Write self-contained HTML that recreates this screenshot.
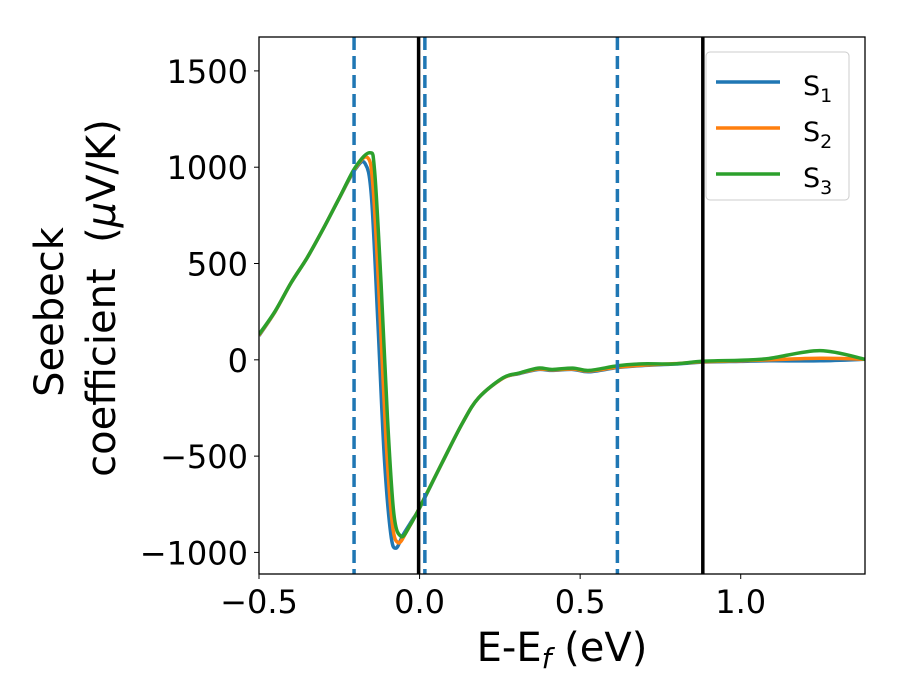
<!DOCTYPE html>
<html><head><meta charset="utf-8"><style>
body{margin:0;background:#fff}
svg{display:block;font-family:"DejaVu Sans","Liberation Sans",sans-serif}
</style></head><body>
<svg id="chart" width="900" height="700">
<rect width="900" height="700" fill="#fff"/>
<g id="plot"></g>
</svg>
<script>
const xTicks=[-0.5,0.0,0.5,1.0];
const xTickLabels=["\u22120.5","0.0","0.5","1.0"];
const yTicks=[-1000,-500,0,500,1000,1500];
const yTickLabels=["\u22121000","\u2212500","0","500","1000","1500"];
const dashedLines=[-0.204,0.0165,0.616];
const solidLines=[-0.003,0.882];
const xS1=[-0.5,-0.45,-0.4,-0.35,-0.3,-0.25,-0.2,-0.17,-0.15,-0.13,-0.11,-0.09,-0.074,-0.05,-0.02,0,0.07,0.134,0.184,0.26,0.31,0.369,0.413,0.477,0.528,0.617,0.693,0.795,0.884,1.0,1.088,1.247,1.387];
const yS1=[125,250,400,530,680,840,990,1020,850,200,-500,-900,-978,-905,-825,-770,-535,-327,-197,-95,-72,-50,-55,-50,-62,-40,-30,-22,-12,-8,-5,-5,3];
const xS2=[-0.5,-0.45,-0.4,-0.35,-0.3,-0.25,-0.2,-0.162,-0.145,-0.125,-0.105,-0.085,-0.066,-0.04,-0.015,0,0.07,0.134,0.184,0.26,0.31,0.369,0.413,0.477,0.528,0.617,0.693,0.795,0.884,1.0,1.088,1.247,1.387];
const yS2=[128,250,400,530,680,840,995,1050,900,300,-400,-850,-950,-890,-815,-768,-535,-327,-197,-95,-70,-48,-52,-48,-58,-38,-28,-20,-10,-5,0,8,3];
const xS3=[-0.5,-0.45,-0.4,-0.35,-0.3,-0.25,-0.2,-0.155,-0.14,-0.12,-0.1,-0.08,-0.057,-0.03,-0.01,0,0.07,0.134,0.184,0.26,0.31,0.369,0.413,0.477,0.528,0.617,0.693,0.795,0.884,1.0,1.088,1.247,1.387];
const yS3=[132,252,400,530,680,840,1000,1075,980,400,-300,-800,-917,-860,-800,-768,-535,-327,-197,-93,-69,-43,-50,-43,-55,-31,-21,-21,-7,-2,7,48,3];
const seriesNames=["S","S","S"];
const seriesSubs=["1","2","3"];
const colors=["#1f77b4","#ff7f0e","#2ca02c"];

const L=259,R=865,T=37,B=574,XMIN=-0.5,XMAX=1.387,YMIN=-1112,YMAX=1676;
const xs=v=>L+(v-XMIN)/(XMAX-XMIN)*(R-L);
const ys=v=>B-(v-YMIN)/(YMAX-YMIN)*(B-T);
const NS="http://www.w3.org/2000/svg";
const g=document.getElementById('plot');
function mk(t,a,p){const e=document.createElementNS(NS,t);for(const k in a)e.setAttribute(k,a[k]);(p||g).appendChild(e);return e;}
function pathFrom(xa,ya){
  const p=xa.map((x,i)=>[xs(x),ys(ya[i])]);
  let d="M"+p[0][0]+","+p[0][1];
  for(let i=0;i<p.length-1;i++){
    const p0=p[i-1]||p[i],p1=p[i],p2=p[i+1],p3=p[i+2]||p2;
    const c1=[p1[0]+(p2[0]-p0[0])/6,p1[1]+(p2[1]-p0[1])/6];
    const c2=[p2[0]-(p3[0]-p1[0])/6,p2[1]-(p3[1]-p1[1])/6];
    d+=" C"+c1[0]+","+c1[1]+" "+c2[0]+","+c2[1]+" "+p2[0]+","+p2[1];
  }
  return d;
}
const defs=mk('defs',{});
const cp=mk('clipPath',{id:'clip'},defs);mk('rect',{x:L,y:T,width:R-L,height:B-T},cp);
const clipG=mk('g',{'clip-path':'url(#clip)'});


const sx=[xS1,xS2,xS3],sy=[yS1,yS2,yS3];
for(let i=0;i<3;i++){
  const e=mk('path',{d:pathFrom(sx[i],sy[i]),fill:'none',stroke:colors[i],'stroke-width':3.5,'stroke-linejoin':'round'},clipG);
  
  
}
dashedLines.forEach((v,i)=>{
  const e=mk('line',{x1:xs(v),x2:xs(v),y1:T,y2:B,stroke:'#1f77b4','stroke-width':3.5,'stroke-dasharray':'13,6'},clipG);
  
  
});
solidLines.forEach((v,i)=>{
  const e=mk('line',{x1:xs(v),x2:xs(v),y1:T,y2:B,stroke:'#000','stroke-width':3.5},clipG);
  
  
});
const fr=mk('rect',{x:L,y:T,width:R-L,height:B-T,fill:'none',stroke:'#000','stroke-width':1.3});


xTicks.forEach((v,i)=>{
  mk('line',{x1:xs(v),x2:xs(v),y1:B,y2:B+5,stroke:'#000','stroke-width':1});
  const t=mk('text',{x:xs(v),y:613,'text-anchor':'middle','font-size':32});
  t.textContent=xTickLabels[i];
  
  
});
yTicks.forEach((v,i)=>{
  mk('line',{x1:L-5,x2:L,y1:ys(v),y2:ys(v),stroke:'#000','stroke-width':1});
  const t=mk('text',{x:L-11,y:ys(v)+12,'text-anchor':'end','font-size':32});
  t.textContent=yTickLabels[i];
  
  
});
const xl=mk('text',{x:562,y:661,'text-anchor':'middle','font-size':40});
xl.innerHTML='E-E<tspan font-style="italic" font-size="28" dy="7">f</tspan><tspan dy="-7"> (eV)</tspan>';


const yl=mk('text',{transform:'translate(63,312) rotate(-90)','text-anchor':'middle','font-size':40});
yl.textContent='Seebeck';


const yl2=mk('text',{transform:'translate(115,298) rotate(-90)','text-anchor':'middle','font-size':40,'xml:space':'preserve'});
yl2.innerHTML='coefficient\u00a0 (<tspan font-style="italic">μ</tspan>V/K)';


const lg=mk('g',{});


mk('rect',{x:706,y:52,width:143,height:148,rx:4,fill:'#fff','fill-opacity':0.8,stroke:'#ccc','stroke-width':1},lg);
for(let i=0;i<3;i++){
  const y=87+i*46;
  const e=mk('line',{x1:716,x2:780,y1:y-5,y2:y-5,stroke:colors[i],'stroke-width':3.5},lg);
  
  
  const t=mk('text',{x:803,y:y+8,'font-size':27},lg);
  t.innerHTML=seriesNames[i]+'<tspan font-size="19" dy="7">'+seriesSubs[i]+'</tspan>';
  
  
}
</script>
</body></html>
